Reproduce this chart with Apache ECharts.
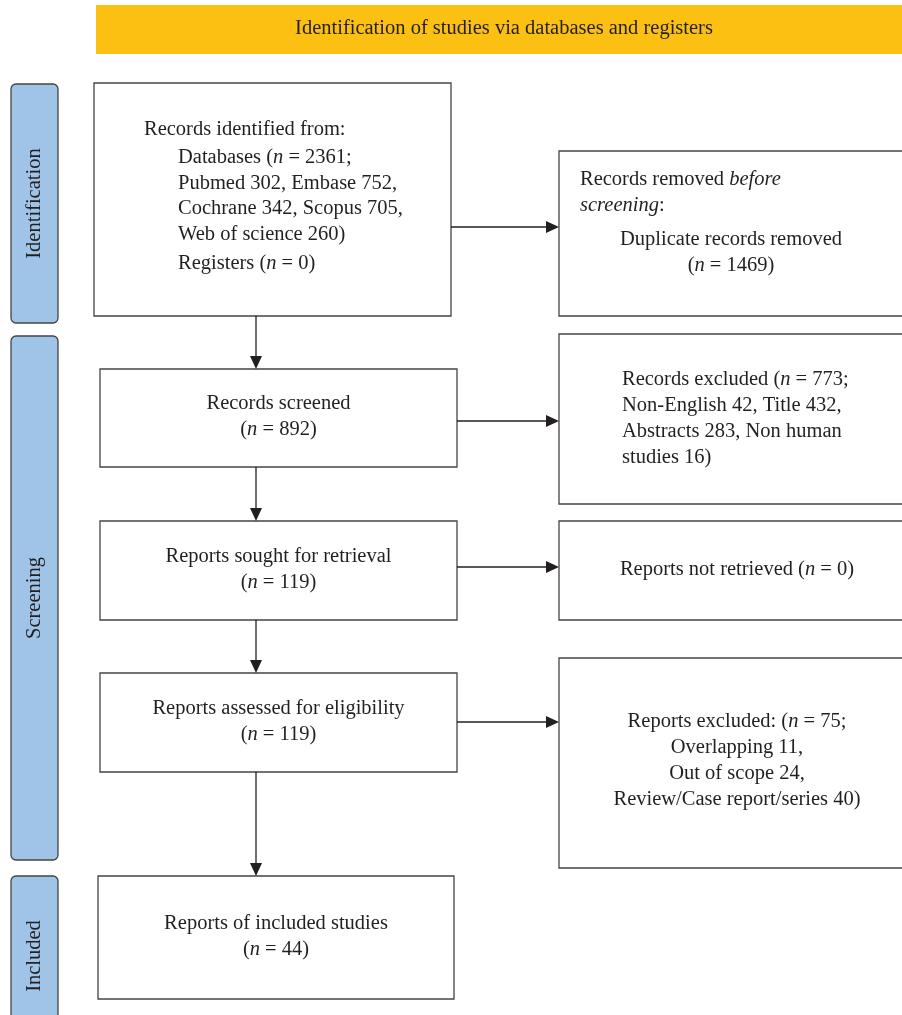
<!DOCTYPE html>
<html>
<head>
<meta charset="utf-8">
<script src="https://cdn.jsdelivr.net/npm/echarts@6/dist/echarts.min.js"></script>
<style>html,body{margin:0;padding:0;background:#fff}#chart{width:902px;height:1015px}</style>
</head>
<body>
<div id="chart"></div>
<script>
// text content of the flow diagram ({i|..} = italic)
const bannerTitle = 'Identification of studies via databases and registers';
const phaseLabels = ['Identification', 'Screening', 'Included'];
const identifiedHead = 'Records identified from:';
const identifiedLines = ['Databases ({i|n} = 2361;', 'Pubmed 302, Embase 752,', 'Cochrane 342, Scopus 705,', 'Web of science 260)'];
const registersLine = 'Registers ({i|n} = 0)';
const removedHead = ['Records removed {i|before}', '{i|screening}:'];
const removedLines = ['Duplicate records removed', '({i|n} = 1469)'];
const excludedLines = ['Records excluded ({i|n} = 773;', 'Non-English 42, Title 432,', 'Abstracts 283, Non human', 'studies 16)'];
const leftBoxTexts = [
  ['Records screened', '({i|n} = 892)'],
  ['Reports sought for retrieval', '({i|n} = 119)'],
  ['Reports assessed for eligibility', '({i|n} = 119)'],
  ['Reports of included studies', '({i|n} = 44)']
];
const notRetrieved = ['Reports not retrieved ({i|n} = 0)'];
const reportsExcluded = ['Reports excluded: ({i|n} = 75;', 'Overlapping 11,', 'Out of scope 24,', 'Review/Case report/series 40)'];

const font = '"Liberation Serif", "DejaVu Serif", serif';
const fs = 20.5;
const ink = '#231f20';
const rich = { i: { fontStyle: 'italic', fontFamily: font, fontSize: fs, fill: ink } };

function box(x, y, w, h) {
  return { type: 'rect', shape: { x, y, width: w, height: h }, style: { fill: '#fff', stroke: '#444', lineWidth: 1.3 } };
}
function text(str, x, y, align, lh) {
  return { type: 'text', x, y, style: { text: str, font: fs + 'px ' + font, fill: ink, align: align || 'center', verticalAlign: 'middle', lineHeight: lh || 26, rich } };
}
function vArrow(x, y1, y2) {
  return [
    { type: 'line', shape: { x1: x, y1, x2: x, y2: y2 - 12 }, style: { stroke: ink, lineWidth: 1.3 } },
    { type: 'polygon', shape: { points: [[x - 6, y2 - 13], [x + 6, y2 - 13], [x, y2]] }, style: { fill: ink } }
  ];
}
function hArrow(x1, x2, y) {
  return [
    { type: 'line', shape: { x1, y1: y, x2: x2 - 12, y2: y }, style: { stroke: ink, lineWidth: 1.3 } },
    { type: 'polygon', shape: { points: [[x2 - 13, y - 6], [x2 - 13, y + 6], [x2, y]] }, style: { fill: ink } }
  ];
}
function phase(label, y, h) {
  return [
    { type: 'rect', shape: { x: 11, y, width: 47, height: h, r: 5 }, style: { fill: '#9fc4e8', stroke: '#444', lineWidth: 1.3 } },
    { type: 'text', x: 35, y: y + h / 2, rotation: Math.PI / 2, style: { text: label, font: fs + 'px ' + font, fill: ink, align: 'center', verticalAlign: 'middle' } }
  ];
}

const els = [];
els.push({ type: 'rect', shape: { x: 96, y: 5, width: 806, height: 49 }, style: { fill: '#fcc012' } });
els.push(text(bannerTitle, 504, 29));
els.push(...phase(phaseLabels[0], 84, 239));
els.push(...phase(phaseLabels[1], 336, 524));
els.push(...phase(phaseLabels[2], 876, 160));

// left column
els.push(box(94, 83, 357, 233));
els.push(text(identifiedHead, 144, 130, 'left'));
els.push(text(identifiedLines.join('\n'), 178, 196, 'left', 25.7));
els.push(text(registersLine, 178, 264, 'left'));
const leftBoxes = [[100, 369, 357, 98], [100, 521, 357, 99], [100, 673, 357, 99], [98, 876, 356, 123]];
leftBoxes.forEach((b, k) => {
  els.push(box(...b));
  els.push(text(leftBoxTexts[k].join('\n'), b[0] + b[2] / 2, b[1] + b[3] / 2 - 1));
});
els.push(...vArrow(256, 316, 369), ...vArrow(256, 467, 521), ...vArrow(256, 620, 673), ...vArrow(256, 772, 876));

// right column
els.push(box(559, 151, 345, 165));
els.push(text(removedHead.join('\n'), 580, 193, 'left'));
els.push(text(removedLines.join('\n'), 731, 253));
els.push(box(559, 334, 345, 170));
els.push(text(excludedLines.join('\n'), 622, 419, 'left'));
els.push(box(559, 521, 345, 99));
els.push(text(notRetrieved.join('\n'), 737, 570));
els.push(box(559, 658, 345, 210));
els.push(text(reportsExcluded.join('\n'), 737, 761));
els.push(...hArrow(451, 559, 227), ...hArrow(457, 559, 421), ...hArrow(457, 559, 567), ...hArrow(457, 559, 722));

const chart = echarts.init(document.getElementById('chart'));
chart.setOption({ animation: false, graphic: { elements: els } });
</script>
</body>
</html>
